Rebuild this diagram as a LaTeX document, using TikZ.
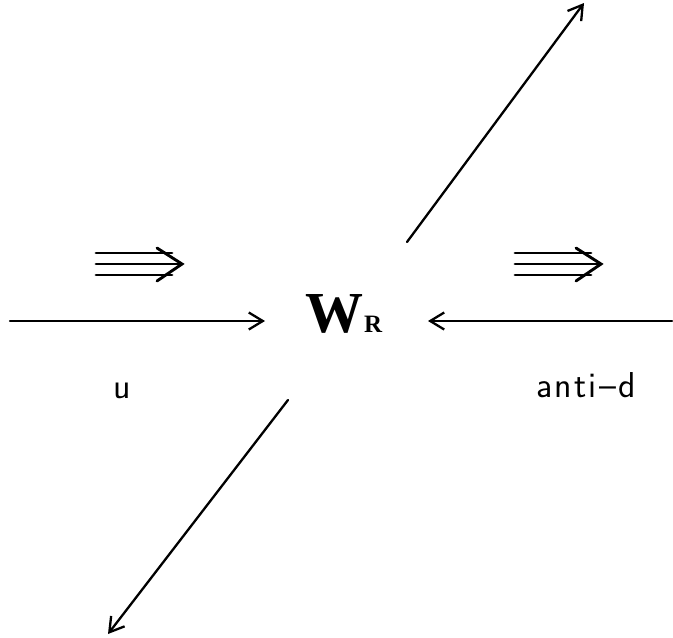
\documentclass[tikz,border=0pt]{standalone}
\usepackage{fontspec}
\newfontfamily\wfont{Liberation Serif}
\newfontfamily\lblfont{Latin Modern Sans}[LetterSpace=6]
\usetikzlibrary{arrows.meta}
\tikzset{
  ln/.style={line width=2.3pt, line cap=round},
  tln/.style={line width=2.9pt, line cap=round},
  arr/.style={ln, -{Straight Barb[length=14pt,width=17pt,line width=2.3pt]}},
  lbl/.style={font=\lblfont\fontsize{36}{36}\selectfont, inner sep=0pt, anchor=base},
}
\begin{document}
\begin{tikzpicture}[x=1pt,y=-1pt]
\useasboundingbox (0,0) rectangle (673,638);
% W_R label
\node[inner sep=0pt, anchor=base west] (w) at (305,332) {\wfont\bfseries\fontsize{58}{58}\selectfont W\kern1pt\fontsize{25}{25}\selectfont R};
% horizontal arrows
\coordinate (lstart) at (10,321);
\coordinate (lend) at (265,321);
\coordinate (rstart) at (672,321);
\coordinate (rend) at (428,321);
\draw[arr] (lstart) -- (lend);
\draw[arr] (rstart) -- (rend);
% diagonal arrows
\coordinate (ustart) at (407,242);
\coordinate (uend) at (584,3);
\coordinate (dstart) at (288,400);
\coordinate (dend) at (108,634);
\draw[arr] (ustart) -- (uend);
\draw[arr] (dstart) -- (dend);
% triple arrows
\foreach \nm/\x in {tl/96, tr/515}{
  \draw[tln] (\x,253) -- ++(76,0);
  \draw[tln] (\x,264) -- ++(84,0);
  \draw[tln] (\x,275) -- ++(76,0);
  \draw[tln, line join=miter] (\x+61,248) -- (\x+86,264) -- (\x+61,281);
}
% labels
\node[lbl] (u) at (122,398) {u};
\node[lbl] (ad) at (586,397) {anti–d};
\end{tikzpicture}
\end{document}
